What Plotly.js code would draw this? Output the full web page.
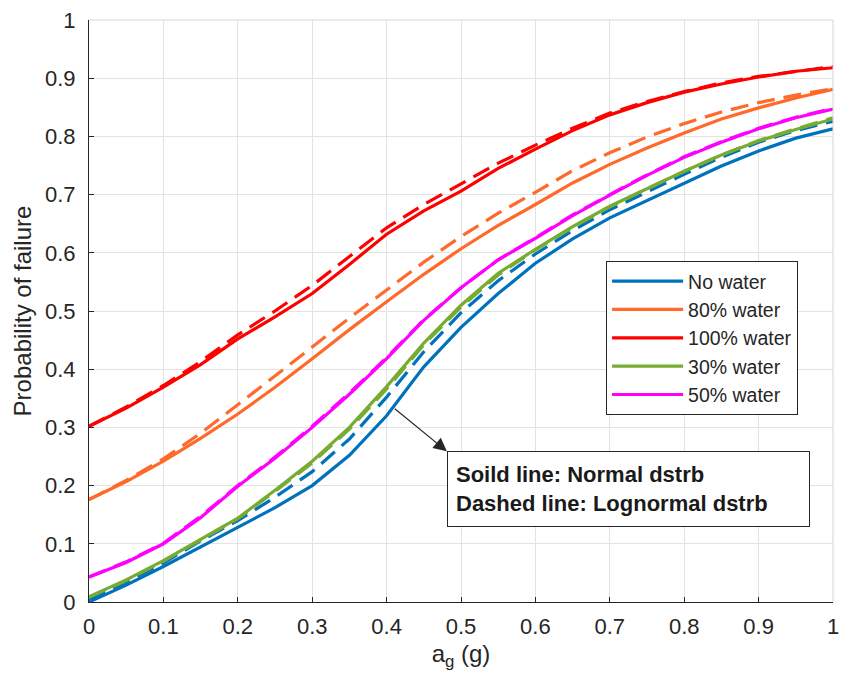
<!DOCTYPE html>
<html>
<head>
<meta charset="utf-8">
<script src="https://cdn.plot.ly/plotly-3.0.1.min.js"></script>
<style>html,body{margin:0;padding:0;background:#fff;}#chart{width:843px;height:686px;}</style>
</head>
<body>
<div id="chart"></div>
<script>
const ag = [0,0.05,0.1,0.15,0.2,0.25,0.3,0.35,0.4,0.45,0.5,0.55,0.6,0.65,0.7,0.75,0.8,0.85,0.9,0.95,1];

const noWaterNormal    = [0.0,0.029,0.061,0.095,0.129,0.162,0.2,0.252,0.32,0.404,0.472,0.53,0.582,0.624,0.66,0.69,0.72,0.749,0.775,0.797,0.813];
const noWaterLognormal = [0.003,0.034,0.067,0.105,0.14,0.18,0.224,0.28,0.352,0.43,0.497,0.552,0.598,0.638,0.674,0.705,0.735,0.764,0.79,0.81,0.826];

const w80Normal    = [0.176,0.207,0.242,0.281,0.323,0.369,0.418,0.468,0.516,0.563,0.607,0.647,0.683,0.72,0.752,0.78,0.806,0.83,0.849,0.866,0.881];
const w80Lognormal = [0.176,0.209,0.246,0.29,0.339,0.388,0.438,0.488,0.536,0.584,0.628,0.668,0.704,0.741,0.772,0.799,0.822,0.842,0.858,0.871,0.882];

const w100Normal    = [0.302,0.333,0.369,0.408,0.452,0.49,0.53,0.58,0.632,0.672,0.706,0.745,0.778,0.81,0.837,0.858,0.876,0.89,0.902,0.912,0.918];
const w100Lognormal = [0.302,0.335,0.372,0.413,0.459,0.5,0.544,0.594,0.643,0.683,0.718,0.754,0.785,0.814,0.84,0.86,0.877,0.892,0.903,0.912,0.92];

const w30Normal    = [0.009,0.038,0.071,0.107,0.144,0.192,0.242,0.3,0.37,0.445,0.51,0.565,0.606,0.645,0.68,0.71,0.74,0.768,0.792,0.812,0.83];
const w30Lognormal = [0.008,0.037,0.07,0.106,0.143,0.19,0.239,0.297,0.366,0.442,0.507,0.562,0.605,0.644,0.679,0.71,0.74,0.768,0.793,0.813,0.832];

const w50Normal    = [0.043,0.068,0.1,0.145,0.199,0.247,0.3,0.357,0.418,0.484,0.54,0.588,0.625,0.664,0.699,0.733,0.764,0.79,0.813,0.832,0.847];
const w50Lognormal = [0.043,0.069,0.101,0.147,0.2,0.249,0.302,0.359,0.42,0.485,0.54,0.588,0.626,0.665,0.7,0.734,0.765,0.791,0.814,0.833,0.848];

const seriesNames = ['No water','80% water','100% water','30% water','50% water'];
const seriesColors = ['#0072BD','#FF6A2A','#FF0000','#77AC30','#FF00FF'];
const normalData = [noWaterNormal,w80Normal,w100Normal,w30Normal,w50Normal];
const lognormalData = [noWaterLognormal,w80Lognormal,w100Lognormal,w30Lognormal,w50Lognormal];

const xTicks = [0,0.1,0.2,0.3,0.4,0.5,0.6,0.7,0.8,0.9,1];
const xTickText = ['0','0.1','0.2','0.3','0.4','0.5','0.6','0.7','0.8','0.9','1'];
const yTicks = [0,0.1,0.2,0.3,0.4,0.5,0.6,0.7,0.8,0.9,1];
const yTickText = ['0','0.1','0.2','0.3','0.4','0.5','0.6','0.7','0.8','0.9','1'];

const traces = [];
for (let i = 0; i < seriesNames.length; i++) {
  traces.push({
    x: ag, y: lognormalData[i], type: 'scatter', mode: 'lines',
    line: {color: seriesColors[i], width: 3.2, dash: '18px,9px'},
    showlegend: false, hoverinfo: 'skip'
  });
}
for (let i = 0; i < seriesNames.length; i++) {
  traces.push({
    x: ag, y: normalData[i], type: 'scatter', mode: 'lines', name: seriesNames[i],
    line: {color: seriesColors[i], width: 3.2}
  });
}
const FONT = 'Liberation Sans, Arial, sans-serif';
const layout = {
  width: 843, height: 686,
  margin: {l: 89, r: 10, t: 20, b: 84},
  paper_bgcolor: '#fff', plot_bgcolor: '#fff',
  font: {family: FONT, color: '#262626'},
  showlegend: true,
  legend: {
    x: 0.695, y: 0.586, xanchor: 'left', yanchor: 'top',
    bgcolor: '#fff', bordercolor: '#262626', borderwidth: 1,
    font: {family: FONT, size: 19.5, color: '#262626'},
    traceorder: 'normal', itemwidth: 71, tracegroupgap: 0
  },
  xaxis: {
    range: [0, 1], tickvals: xTicks, ticktext: xTickText,
    showgrid: true, gridcolor: '#e3e3e3', gridwidth: 1,
    zeroline: false, showline: true, linecolor: '#262626', linewidth: 1,
    ticks: 'inside', ticklen: 5, tickcolor: '#262626',
    ticklabelstandoff: 5,
    tickfont: {size: 22, color: '#262626'},
    title: {text: 'a<sub>g</sub> (g)', font: {size: 24, color: '#262626'}, standoff: 6}
  },
  yaxis: {
    range: [0, 1], tickvals: yTicks, ticktext: yTickText,
    showgrid: true, gridcolor: '#e3e3e3', gridwidth: 1,
    zeroline: false, showline: true, linecolor: '#262626', linewidth: 1,
    ticks: 'inside', ticklen: 5, tickcolor: '#262626',
    ticklabelstandoff: 8,
    tickfont: {size: 22, color: '#262626'},
    title: {text: 'Probability of failure', font: {size: 24, color: '#262626'}, standoff: 6}
  },
  shapes: [
    {type: 'line', xref: 'paper', yref: 'paper', x0: 0, x1: 1, y0: 1, y1: 1, line: {color: '#d6d6d6', width: 1}},
    {type: 'line', xref: 'paper', yref: 'paper', x0: 1, x1: 1, y0: 0, y1: 1, line: {color: '#d6d6d6', width: 1}}
  ],
  annotations: [
    {
      x: 0.481, y: 0.259, xref: 'x', yref: 'y',
      ax: 0.409, ay: 0.334, axref: 'x', ayref: 'y',
      text: '', showarrow: true, arrowhead: 2, arrowsize: 2.2, arrowwidth: 1.2, arrowcolor: '#262626'
    },
    {
      x: 0.7245, y: 0.195, xref: 'x', yref: 'y', xanchor: 'center', yanchor: 'middle',
      text: '<b>Soild line: Normal dstrb</b><br><b>Dashed line: Lognormal dstrb</b>',
      align: 'left', showarrow: false,
      font: {family: FONT, size: 22, color: '#1a1a1a'},
      bgcolor: '#fff', bordercolor: '#262626', borderwidth: 1, borderpad: 8,
      width: 345, height: 58
    }
  ]
};
Plotly.newPlot('chart', traces, layout, {displayModeBar: false, staticPlot: true});
</script>
</body>
</html>
